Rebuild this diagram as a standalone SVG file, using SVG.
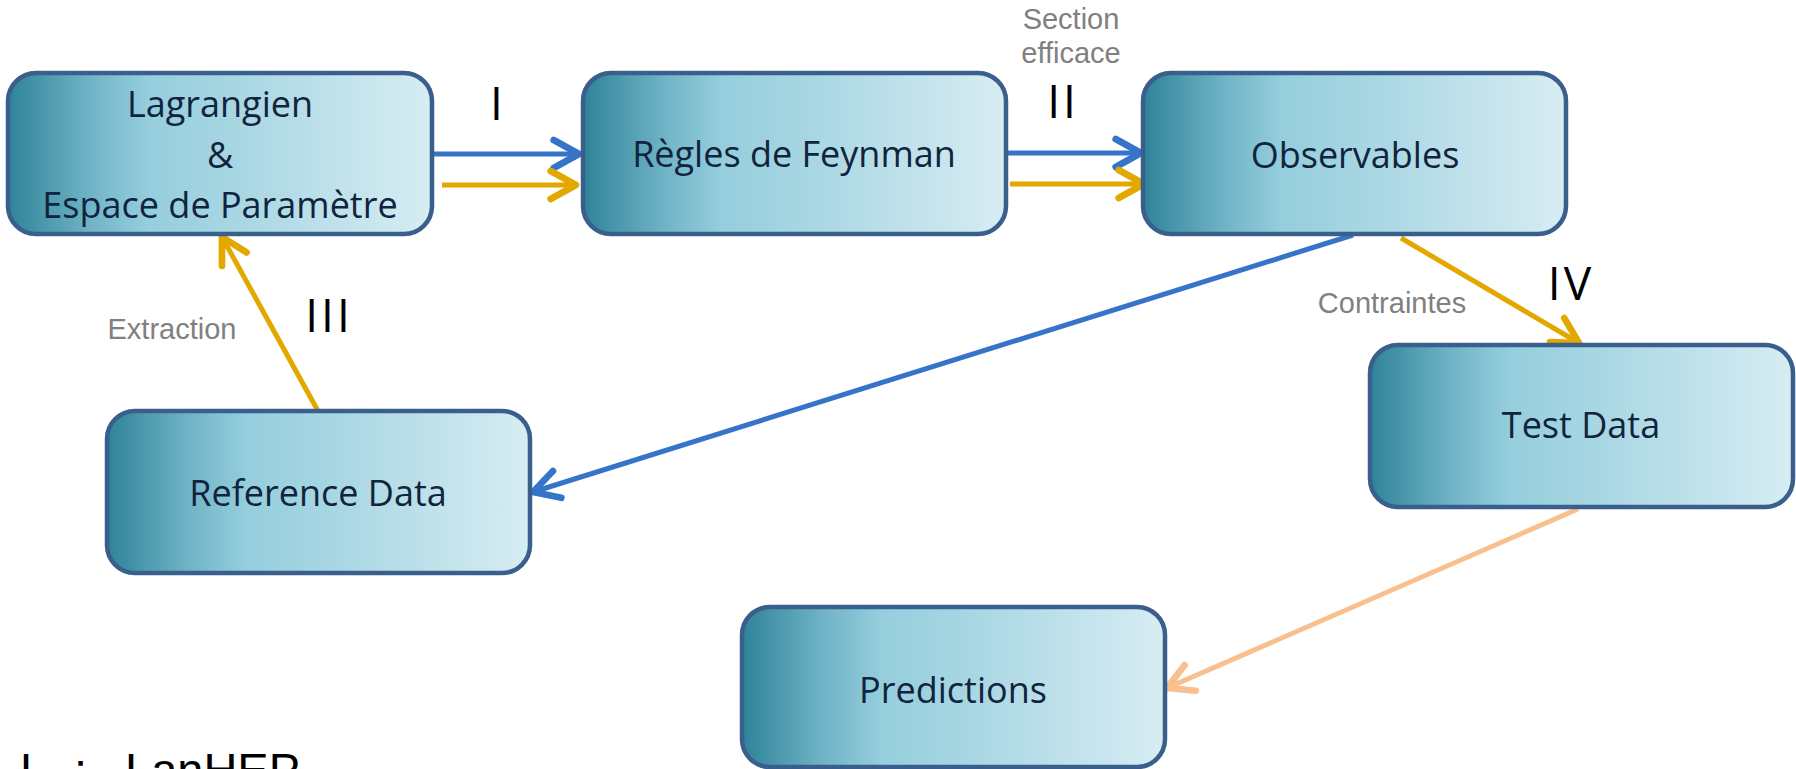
<svg xmlns="http://www.w3.org/2000/svg" width="1796" height="769" viewBox="0 0 1796 769">
  <style>
    .box { stroke: #3A5F8C; stroke-width: 4.5; fill: url(#g); }
    .lbl { font-family: "Open Sans", "Noto Sans", sans-serif; font-size: 36px; fill: #10243E; text-anchor: middle; }
    .num { font-family: "Open Sans", "Noto Sans", sans-serif; font-size: 46px; fill: #000; text-anchor: middle; letter-spacing: 3px; }
    .gray { font-family: "Liberation Sans", Arial, sans-serif; font-size: 29px; fill: #808080; text-anchor: middle; }
    .con { fill: none; stroke-width: 5; }
    .blue { stroke: #3574C8; }
    .gold { stroke: #E3A800; }
    .peach { stroke: #F9BF8F; }
  </style>
  <defs>
    <linearGradient id="g" x1="0" y1="0" x2="1" y2="0">
      <stop offset="0" stop-color="#2E8399"/>
      <stop offset="0.08" stop-color="#4A97AB"/>
      <stop offset="0.2" stop-color="#72B5C8"/>
      <stop offset="0.33" stop-color="#95CEDD"/>
      <stop offset="0.55" stop-color="#A9D7E3"/>
      <stop offset="0.8" stop-color="#C3E3EC"/>
      <stop offset="1" stop-color="#D7EDF3"/>
    </linearGradient>
    <marker id="mb" markerUnits="userSpaceOnUse" markerWidth="40" markerHeight="40" viewBox="-25 -15 30 30" refX="0" refY="0" orient="auto" overflow="visible">
      <path d="M-19,-10.5 L0,0 L-19,10.5" fill="none" stroke="#3574C8" stroke-width="5" stroke-linecap="round" stroke-linejoin="round"/>
    </marker>
    <marker id="mg" markerUnits="userSpaceOnUse" markerWidth="40" markerHeight="40" viewBox="-25 -15 30 30" refX="0" refY="0" orient="auto" overflow="visible">
      <path d="M-19,-10.5 L0,0 L-19,10.5" fill="none" stroke="#E3A800" stroke-width="5" stroke-linecap="round" stroke-linejoin="round"/>
    </marker>
    <marker id="mp" markerUnits="userSpaceOnUse" markerWidth="40" markerHeight="40" viewBox="-25 -15 30 30" refX="0" refY="0" orient="auto" overflow="visible">
      <path d="M-19,-10.5 L0,0 L-19,10.5" fill="none" stroke="#F9BF8F" stroke-width="5" stroke-linecap="round" stroke-linejoin="round"/>
    </marker>
  </defs>

  <g id="connectors">
    <line class="con blue" x1="432" y1="154" x2="579" y2="154" marker-end="url(#mb)"/>
    <line class="con gold" x1="442" y1="185" x2="576" y2="185" marker-end="url(#mg)"/>
    <line class="con blue" x1="1007" y1="153" x2="1141" y2="153" marker-end="url(#mb)"/>
    <line class="con gold" x1="1010" y1="184" x2="1144" y2="184" marker-end="url(#mg)"/>
    <line class="con blue" x1="1353" y1="235" x2="533" y2="492" marker-end="url(#mb)"/>
    <line class="con gold" x1="1401" y1="238" x2="1579" y2="343" marker-end="url(#mg)"/>
    <line class="con gold" x1="318" y1="411" x2="222" y2="237" marker-end="url(#mg)"/>
    <line class="con peach" x1="1578" y1="509" x2="1167" y2="688" marker-end="url(#mp)"/>
  </g>

  <g id="node-lagrangien">
    <rect class="box" x="8" y="73" width="424" height="161" rx="28" ry="28"/>
    <text class="lbl" x="220" y="117">Lagrangien</text>
    <text class="lbl" x="220" y="168">&amp;</text>
    <text class="lbl" x="220" y="218">Espace de Paramètre</text>
  </g>

  <g id="node-feynman">
    <rect class="box" x="583" y="73" width="423" height="161" rx="28" ry="28"/>
    <text class="lbl" x="794" y="167">Règles de Feynman</text>
  </g>

  <g id="node-observables">
    <rect class="box" x="1143" y="73" width="423" height="161" rx="28" ry="28"/>
    <text class="lbl" x="1355" y="168">Observables</text>
  </g>

  <g id="node-testdata">
    <rect class="box" x="1370" y="345" width="423" height="162" rx="28" ry="28"/>
    <text class="lbl" x="1581" y="438">Test Data</text>
  </g>

  <g id="node-referencedata">
    <rect class="box" x="107" y="411" width="423" height="162" rx="28" ry="28"/>
    <text class="lbl" x="318" y="506">Reference Data</text>
  </g>

  <g id="node-predictions">
    <rect class="box" x="742" y="607" width="423" height="160" rx="28" ry="28"/>
    <text class="lbl" x="953" y="703">Predictions</text>
  </g>

  <g id="labels">
    <text class="num" x="498" y="120">I</text>
    <text class="num" x="1063" y="118">II</text>
    <text class="num" x="329" y="332">III</text>
    <text class="num" x="1571" y="300">IV</text>
    <text class="gray" x="1071" y="29">Section</text>
    <text class="gray" x="1071" y="63">efficace</text>
    <text class="gray" x="172" y="339">Extraction</text>
    <text class="gray" x="1392" y="313">Contraintes</text>
    <text font-family="Liberation Sans, Arial, sans-serif" font-size="47" fill="#000"><tspan x="20" y="786">L</tspan><tspan x="74" y="786">:</tspan><tspan x="125" y="786">LanHEP</tspan></text>
  </g>
</svg>
